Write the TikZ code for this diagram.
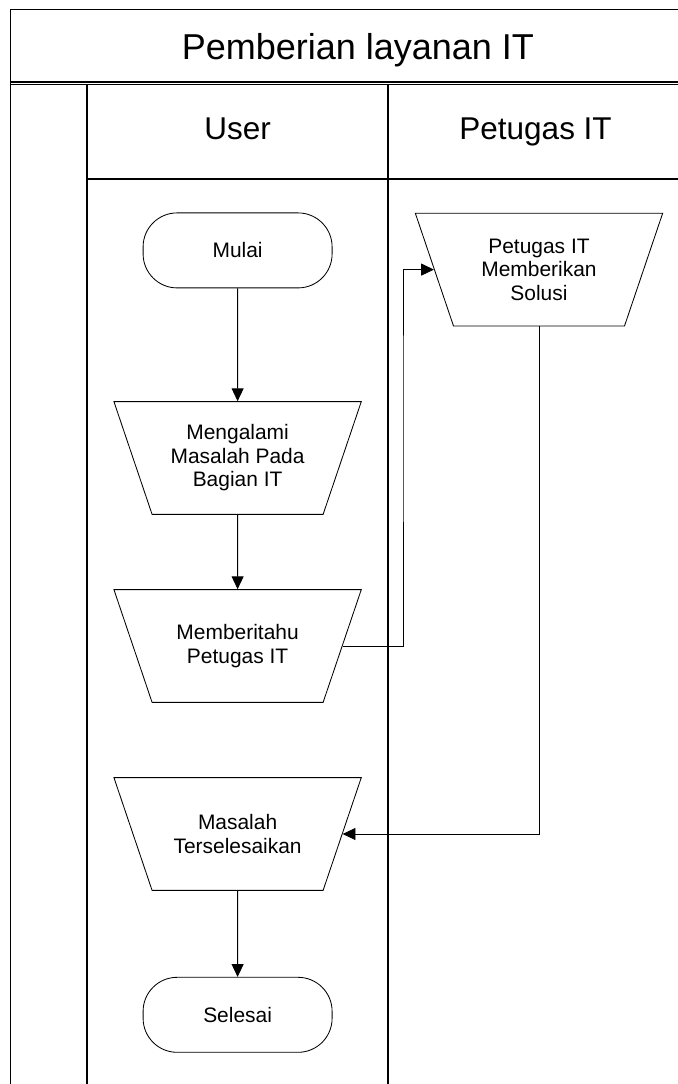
\documentclass[tikz,border=0pt]{standalone}
\usepackage{fontspec}
\setmainfont{Liberation Sans}
\usetikzlibrary{shapes.geometric, arrows.meta}

\tikzstyle{startstop} = [rectangle, rounded corners=0.85cm, 
minimum width=4.725cm, 
minimum height=1.875cm,
text centered, 
draw=black, line width=0.6pt,
font=\fontsize{14.9}{16.7}\selectfont]
\tikzstyle{manual} = [trapezium, 
shape border rotate=180,
trapezium left angle=71.3, 
trapezium right angle=71.3, 
inner sep=0pt,
execute at begin node={\begin{minipage}[c][2.82cm][c]{4.275cm}\centering},
execute at end node={\end{minipage}},
draw=black, line width=0.6pt,
font=\fontsize{14.9}{16.7}\selectfont]
\tikzstyle{lane} = [line width=0.9pt]
\tikzstyle{lanetitle} = [anchor=base, font=\fontsize{22.4}{26}\selectfont]
\tikzstyle{arrow} = [line width=0.6pt,-{Triangle[length=0.32cm,width=0.3cm]}]

\begin{document}
\begin{tikzpicture}[node distance=4.7cm]
\useasboundingbox (0,0) rectangle (16.95,-27.1);

% frame of the swimlanes
\draw [lane] (16.95,-0.23) -- (0.27,-0.23) -- (0.27,-27.1);
\draw [lane] (0.27,-2.05) -- (16.95,-2.05);
\draw [lane] (0.27,-2.11) -- (16.95,-2.11);
\draw [lane] (2.175,-2.11) -- (2.175,-27.1);
\draw [lane] (9.7,-2.11) -- (9.7,-27.1);
\draw [lane] (2.175,-4.475) -- (16.95,-4.475);

\node (title) at (8.95,-1.25) {\fontsize{25.6}{30}\selectfont Pemberian layanan IT};
\node (user) [lanetitle] at (5.94,-3.475) {User};
\node (petugas) [lanetitle] at (13.39,-3.475) {Petugas IT};

\node (mulai) [startstop] at (5.94,-6.26) {Mulai};
\node (masalah) [manual, below of=mulai, yshift=-0.49cm] {Mengalami\\ Masalah Pada\\ Bagian IT};
\node (beritahu) [manual, below of=masalah] {Memberitahu\\ Petugas IT};
\node (solusi) [manual, right of=mulai, xshift=2.835cm, yshift=-0.48cm] {Petugas IT\\ Memberikan\\ Solusi};
\node (selesaikan) [manual, below of=beritahu] {Masalah\\ Terselesaikan};
\node (selesai) [startstop, below of=selesaikan, yshift=0.18cm] {Selesai};

\coordinate (belok) at (10.075,-10);

\draw [arrow] (mulai) -- (masalah);
\draw [arrow] (masalah) -- (beritahu);
\draw [arrow] (beritahu.east) -| (belok) |- (solusi.west);
\draw [arrow] (solusi.south) |- (selesaikan.east);
\draw [arrow] (selesaikan) -- (selesai);

\end{tikzpicture}
\end{document}
